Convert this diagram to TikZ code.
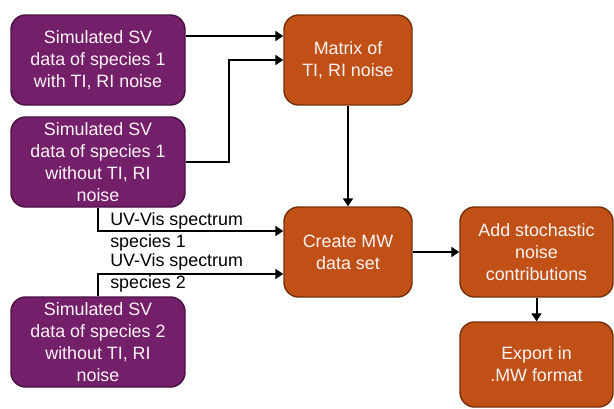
\documentclass[tikz,border=0pt]{standalone}
\usepackage{fontspec}
\setmainfont{Liberation Sans}
\usetikzlibrary{arrows.meta,calc}
\definecolor{purplefill}{RGB}{115,31,106}
\definecolor{purpleline}{RGB}{72,18,66}
\definecolor{orangefill}{RGB}{193,80,22}
\definecolor{orangeline}{RGB}{120,48,14}
\definecolor{boxtext}{RGB}{252,244,244}
\begin{document}
\begin{tikzpicture}[x=0.75pt,y=-0.75pt,
  basebox/.style={rounded corners=11pt,line width=1.1pt,align=center,text=boxtext,
    font=\fontsize{13.4}{16.5}\selectfont,inner sep=0pt},
  pbox/.style={basebox,draw=purpleline,fill=purplefill,minimum width=130.5pt,minimum height=67.5pt},
  obox/.style={basebox,draw=orangeline,fill=orangefill,minimum width=96pt,minimum height=67.5pt},
  wbox/.style={basebox,draw=orangeline,fill=orangefill,minimum width=114.75pt},
  arr/.style={line width=1.5pt,-{Triangle[length=6pt,width=7.5pt]}},
  lbl/.style={anchor=west,align=left,inner sep=0pt,font=\fontsize{13.4}{16.5}\selectfont}]
\useasboundingbox (0,0) rectangle (614,408);
\node[pbox] (b1) at (98,60) {Simulated SV\\data of species 1\\with TI, RI noise};
\node[pbox] (b2) at (98,162) {Simulated SV\\data of species 1\\without TI, RI\\noise};
\node[pbox] (b3) at (98,342) {Simulated SV\\data of species 2\\without TI, RI\\noise};
\node[obox] (m) at (348,60) {Matrix of\\TI, RI noise};
\node[obox] (c) at (348,252) {Create MW\\data set};
\node[wbox,minimum height=67.5pt] (a) at (536.5,252) {Add stochastic\\noise\\contributions};
\node[wbox,minimum height=63.75pt] (e) at (536.5,364.5) {Export in\\.MW format};
\draw[arr] ([yshift=18pt]b1.east) -- ([yshift=18pt]m.west);
\draw[arr] (b2.east) -- ++(43,0) |- (m.west);
\draw[arr] (m.south) -- (c.north);
\draw[arr] (b2.south) |- ([yshift=15.75pt]c.west);
\draw[arr] (b3.north) |- ([yshift=-16.5pt]c.west);
\draw[arr] (c.east) -- (a.west);
\draw[arr] (a.south) -- (e.north);
\node[lbl] (l1) at (110,231.5) {UV-Vis spectrum\\species 1};
\node[lbl] (l2) at (110,272.5) {UV-Vis spectrum\\species 2};
\end{tikzpicture}
\end{document}
